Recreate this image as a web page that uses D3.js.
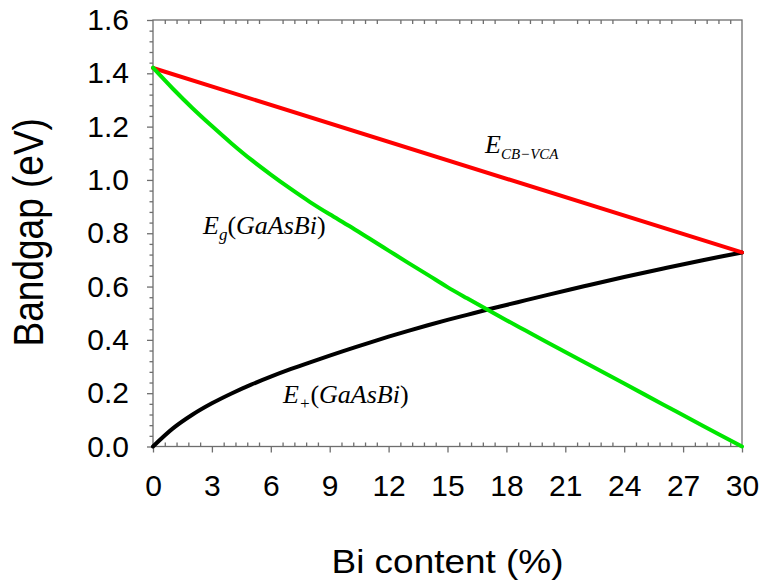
<!DOCTYPE html>
<html>
<head>
<meta charset="utf-8">
<script src="https://cdn.jsdelivr.net/npm/d3@7/dist/d3.min.js"></script>
<style>
  html, body { margin: 0; padding: 0; background: #fff; }
  svg { display: block; }
</style>
</head>
<body>
<svg id="chart" width="763" height="585"></svg>
<script>
// ---- data ----
const biContent = [0, 1, 2, 3, 4, 5, 6, 7, 8, 9, 10, 11, 12, 13, 14, 15, 16, 17, 18, 19, 20, 22, 24, 26, 28, 30];
const ePlus   = [0, 0.067, 0.119, 0.162, 0.199, 0.232, 0.262, 0.290, 0.316, 0.341, 0.365, 0.389, 0.412, 0.434, 0.455, 0.475, 0.494, 0.513, 0.531, 0.549, 0.567, 0.602, 0.636, 0.668, 0.699, 0.728];
const eGap    = [1.421, 1.343, 1.270, 1.202, 1.137, 1.076, 1.020, 0.967, 0.917, 0.871, 0.827, 0.781, 0.735, 0.689, 0.644, 0.598, 0.556, 0.515, 0.474, 0.434, 0.394, 0.315, 0.236, 0.157, 0.078, 0.0];
const redX    = [0, 30];
const eCBVCA  = [1.42, 0.728];
const xTicks  = [0, 3, 6, 9, 12, 15, 18, 21, 24, 27, 30];
const yTicks  = [0.0, 0.2, 0.4, 0.6, 0.8, 1.0, 1.2, 1.4, 1.6];
const xTitle  = "Bi content (%)";
const yTitle  = "Bandgap (eV)";

// ---- layout ----
const svg = d3.select("#chart");
const L = 153, R = 742, T = 20, B = 446.5;
const x = d3.scaleLinear().domain([0, 30]).range([L, R]);
const y = d3.scaleLinear().domain([0, 1.6]).range([B, T]);
const axisColor = "#6e6e6e";
const tickFont = "Liberation Sans, Arial, sans-serif";

// minor tick values
const xMinor = d3.range(0, 30.0001, 0.6).map(v => +v.toFixed(2));
const xMinorOnly = xMinor.filter(v => Math.abs(v / 3 - Math.round(v / 3)) > 1e-6);
const yMinor = d3.range(0, 1.6001, 0.04).map(v => +v.toFixed(2));
const yMinorOnly = yMinor.filter(v => Math.abs(v / 0.2 - Math.round(v / 0.2)) > 1e-6);

// frame
svg.append("rect").attr("x", L).attr("y", T).attr("width", R - L).attr("height", B - T)
  .attr("fill", "none").attr("stroke", axisColor).attr("stroke-width", 1.3);

function styleAxis(g) {
  g.select(".domain").remove();
  g.selectAll(".tick line").attr("stroke", axisColor).attr("stroke-width", 1.3);
}

// bottom: major outward with labels
const gxB = svg.append("g").attr("transform", `translate(0,${B})`)
  .call(d3.axisBottom(x).tickValues(xTicks).tickSize(6).tickPadding(22).tickFormat(d3.format("d")));
styleAxis(gxB);
gxB.selectAll(".tick text").attr("font-family", tickFont).attr("font-size", 30).attr("fill", "#000");
// bottom minor inward
const gxBm = svg.append("g").attr("transform", `translate(0,${B})`)
  .call(d3.axisTop(x).tickValues(xMinorOnly).tickSize(4).tickFormat(""));
styleAxis(gxBm);
// top minor inward
const gxT = svg.append("g").attr("transform", `translate(0,${T})`)
  .call(d3.axisBottom(x).tickValues(xMinorOnly).tickSize(4).tickFormat(""));
styleAxis(gxT);

// left: major outward with labels
const gyL = svg.append("g").attr("transform", `translate(${L},0)`)
  .call(d3.axisLeft(y).tickValues(yTicks).tickSize(6).tickPadding(18).tickFormat(d3.format(".1f")));
styleAxis(gyL);
gyL.selectAll(".tick text").attr("font-family", tickFont).attr("font-size", 30).attr("fill", "#000");
const gyLm = svg.append("g").attr("transform", `translate(${L},0)`)
  .call(d3.axisLeft(y).tickValues(yMinorOnly).tickSize(3.5).tickFormat(""));
styleAxis(gyLm);

// axis titles
svg.append("text").attr("transform", `translate(${(L + R) / 2},573) scale(1.12,1)`).attr("text-anchor", "middle")
  .attr("font-family", tickFont).attr("font-size", 33).attr("fill", "#000").text(xTitle);
svg.append("text").attr("transform", `translate(43,${(T + B) / 2 - 1}) scale(1.13,1) rotate(-90)`).attr("text-anchor", "middle")
  .attr("font-family", tickFont).attr("font-size", 37).attr("fill", "#000").text(yTitle);

// curves
const line = d3.line().x(d => x(d[0])).y(d => y(d[1])).curve(d3.curveCatmullRom.alpha(0.5));
const series = [
  { xs: biContent, ys: ePlus, color: "#000000" },
  { xs: redX, ys: eCBVCA, color: "#ff0000" },
  { xs: biContent, ys: eGap, color: "#00e600" }
];
series.forEach(s => {
  svg.append("path").datum(s.xs.map((v, i) => [v, s.ys[i]]))
    .attr("d", line).attr("fill", "none").attr("stroke", s.color)
    .attr("stroke-width", 4).attr("stroke-linecap", "round").attr("stroke-linejoin", "round");
});

// math labels
const mathFont = "Liberation Serif, Times New Roman, serif";
function mathLabel(xp, yp, sub, rest, subSize) {
  const t = svg.append("text").attr("x", xp).attr("y", yp)
    .attr("font-family", mathFont).attr("font-size", 26).attr("fill", "#000");
  t.append("tspan").attr("font-style", "italic").text("E");
  t.append("tspan").attr("font-style", "italic").attr("font-size", subSize).attr("dy", 6).text(sub);
  if (rest) {
    t.append("tspan").attr("dy", -6).text("(");
    t.append("tspan").attr("font-style", "italic").text("GaAsBi");
    t.append("tspan").text(")");
  }
}
mathLabel(485, 153, "CB\u2212VCA", false, 15);
mathLabel(203, 234, "g", true, 17);
mathLabel(283, 403, "+", true, 17);
</script>
</body>
</html>
